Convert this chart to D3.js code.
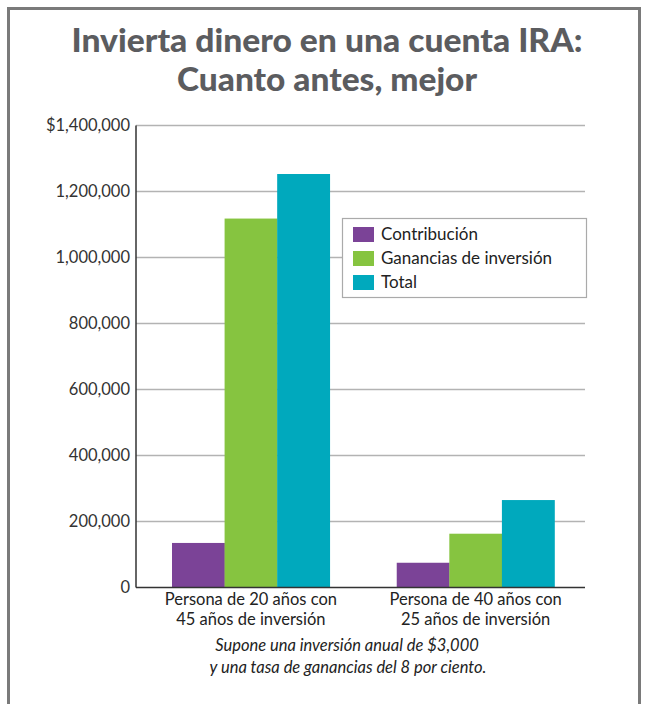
<!DOCTYPE html>
<html><head><meta charset="utf-8">
<script src="https://cdn.jsdelivr.net/npm/d3@7"></script>
<style>body{margin:0;background:#fff;} svg{display:block;}</style>
</head><body>
<script>
const categories = [["Persona de 20 años con","45 años de inversión"],["Persona de 40 años con","25 años de inversión"]];
const seriesNames = ["Contribución","Ganancias de inversión","Total"];
const contribucion = [135000, 75000];
const ganancias = [1118000, 163000];
const total = [1253000, 265000];
const tickValues = [0,200000,400000,600000,800000,1000000,1200000,1400000];
const tickLabels = ["0","200,000","400,000","600,000","800,000","1,000,000","1,200,000","$1,400,000"];
const colors = ["#7b4397","#86c440","#00a9bd"];
const series = [contribucion, ganancias, total];

const W=645,H=704;
const svg=d3.select("body").append("svg").attr("width",W).attr("height",H);
svg.append("rect").attr("x",8.5).attr("y",8.5).attr("width",631).attr("height",720)
  .attr("fill","none").attr("stroke","#7a7a7a").attr("stroke-width",3);

const tfont="Lato, 'Open Sans', sans-serif";
svg.append("text").attr("x",327).attr("y",52).attr("text-anchor","middle")
  .attr("font-family",tfont).attr("font-weight",900).attr("font-size",32).attr("fill","#5b5c5f")
  .attr("textLength",511).attr("lengthAdjust","spacingAndGlyphs").text("Invierta dinero en una cuenta IRA:");
svg.append("text").attr("x",327).attr("y",91).attr("text-anchor","middle")
  .attr("font-family",tfont).attr("font-weight",900).attr("font-size",32).attr("fill","#5b5c5f")
  .attr("textLength",300).attr("lengthAdjust","spacingAndGlyphs").text("Cuanto antes, mejor");

const x0=136, x1=585, y0=587.5, y1=125.5;
const y=d3.scaleLinear().domain([0,1400000]).range([y0,y1]);
const xg=d3.scaleBand().domain(d3.range(categories.length)).range([172,554.5]).paddingInner(0.298).paddingOuter(0);
const xs=d3.scaleBand().domain(d3.range(series.length)).range([0,xg.bandwidth()]);

const g=svg.append("g");
const yAxis=d3.axisLeft(y).tickValues(tickValues).tickFormat((d,i)=>tickLabels[i]).tickSize(0).tickPadding(6);
const ga=g.append("g").attr("transform",`translate(${x0},0)`).call(yAxis);
ga.select(".domain").remove();
ga.selectAll("text").attr("font-family","Lato, 'Open Sans', sans-serif").attr("font-size",16.5).attr("fill","#333");
g.selectAll("line.grid").data(tickValues.filter(d=>d>0)).enter().append("line")
  .attr("x1",x0).attr("x2",x1).attr("y1",d=>y(d)).attr("y2",d=>y(d))
  .attr("stroke","#b3b3b3").attr("stroke-width",1.5);

categories.forEach((c,ci)=>{
  series.forEach((s,si)=>{
    g.append("rect").attr("x",xg(ci)+xs(si)).attr("width",xs.bandwidth()+0.3)
      .attr("y",y(s[ci])).attr("height",y0-y(s[ci])).attr("fill",colors[si]);
  });
  const t=g.append("text").attr("text-anchor","middle").attr("font-family","Lato, 'Open Sans', sans-serif")
    .attr("font-size",16.5).attr("fill","#222");
  c.forEach((line,li)=>t.append("tspan").attr("x",xg(ci)+xg.bandwidth()/2).attr("y",605+li*19.5).text(line));
});
g.append("line").attr("x1",x0).attr("x2",x0).attr("y1",y1).attr("y2",y0).attr("stroke","#333").attr("stroke-width",1.5);
g.append("line").attr("x1",x0).attr("x2",x1).attr("y1",y0).attr("y2",y0).attr("stroke","#333").attr("stroke-width",1.5);

const lg=svg.append("g");
lg.append("rect").attr("x",342.5).attr("y",218.5).attr("width",244).attr("height",79)
  .attr("fill","#fff").attr("stroke","#aaa").attr("stroke-width",1.2);
seriesNames.forEach((n,i)=>{
  lg.append("rect").attr("x",353).attr("y",227+i*24).attr("width",21).attr("height",15).attr("fill",colors[i]);
  lg.append("text").attr("x",381).attr("y",240+i*24).attr("font-family","Lato, 'Open Sans', sans-serif")
    .attr("font-size",17).attr("fill","#222").text(n);
});

const fn=svg.append("text").attr("text-anchor","middle").attr("font-family","Lato, 'Open Sans', sans-serif")
  .attr("font-style","italic").attr("font-size",16.5).attr("fill","#222");
fn.append("tspan").attr("x",347).attr("y",651).text("Supone una inversión anual de $3,000");
fn.append("tspan").attr("x",348).attr("y",673).text("y una tasa de ganancias del 8 por ciento.");
</script>
</body></html>
